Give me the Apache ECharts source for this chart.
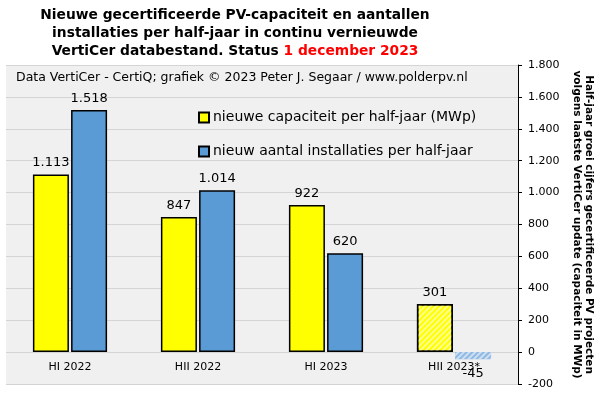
<!DOCTYPE html>
<html>
<head>
<meta charset="utf-8">
<script src="https://cdn.jsdelivr.net/npm/echarts@6/dist/echarts.min.js"></script>
<style>
  html, body { margin: 0; padding: 0; background: #fff; }
  #chart { width: 601px; height: 396px; }
</style>
</head>
<body>
<div id="chart"></div>
<script>
// half-year periods (last one still incomplete)
var periods = ['HI 2022', 'HII 2022', 'HI 2023', 'HII 2023*'];
var capaciteit = [1113, 847, 922, 301];   // MWp
var installaties = [1518, 1014, 620, -45];
var yTicks = { min: -200, max: 1800, step: 200 };

// thousands with a dot, like 1.518
function fmt(v) {
  var s = String(Math.abs(v)).replace(/\B(?=(\d{3})+(?!\d))/g, '.');
  return (v < 0 ? '-' : '') + s;
}

var hatch = {
  symbol: 'rect',
  symbolSize: 1,
  dashArrayX: [1, 0],
  dashArrayY: [2, 2],
  rotation: -Math.PI / 4,
  color: 'rgba(255,255,255,0.55)'
};

function buildData(values) {
  return values.map(function (v, i) {
    if (i < values.length - 1) return v;
    var item = { value: v, itemStyle: { decal: hatch } };
    if (v < 0) {
      item.itemStyle.color = '#8fb8e2';
      item.itemStyle.borderWidth = 0;
      item.label = { position: 'bottom', distance: 8 };
    }
    return item;
  });
}

var chart = echarts.init(document.getElementById('chart'));

var option = {
  backgroundColor: '#ffffff',
  animation: false,
  textStyle: { fontFamily: 'DejaVu Sans' },
  title: {
    text: 'Nieuwe gecertificeerde PV-capaciteit en aantallen\ninstallaties per half-jaar in continu vernieuwde\nVertiCer databestand. Status {r|1 december 2023}',
    left: 230,
    top: 1,
    textAlign: 'center',
    textStyle: {
      fontFamily: 'DejaVu Sans',
      fontSize: 13.8,
      fontWeight: 'bold',
      color: '#000',
      lineHeight: 18,
      rich: {
        r: { color: '#ff0000', fontSize: 13.8, fontWeight: 'bold', lineHeight: 18 }
      }
    }
  },
  graphic: [{
    type: 'text',
    left: 16,
    top: 71,
    z: 10,
    style: {
      text: 'Data VertiCer - CertiQ; grafiek \u00a9 2023 Peter J. Segaar / www.polderpv.nl',
      font: '12.5px "DejaVu Sans"',
      fill: '#000'
    }
  }],
  legend: {
    orient: 'vertical',
    left: 193,
    top: 104,
    icon: 'rect',
    itemWidth: 10,
    itemHeight: 10,
    itemGap: 17,
    textStyle: { fontSize: 14, color: '#000', lineHeight: 17, padding: [0, 0, 0, -1] },
    data: ['nieuwe capaciteit per half-jaar (MWp)', 'nieuw aantal installaties per half-jaar']
  },
  grid: {
    left: 6,
    right: 83,
    top: 65,
    bottom: 12,
    outerBoundsMode: 'none',
    containLabel: false,
    show: true,
    backgroundColor: '#f0f0f0',
    borderWidth: 0
  },
  xAxis: {
    type: 'category',
    data: periods,
    position: 'bottom',
    offset: -32,
    axisLine: { show: false, onZero: false },
    axisTick: { show: false },
    axisLabel: { fontSize: 11, color: '#000', margin: 10 }
  },
  yAxis: {
    type: 'value',
    position: 'right',
    min: yTicks.min,
    max: yTicks.max,
    interval: yTicks.step,
    axisLine: { show: true, lineStyle: { color: '#000', width: 1 } },
    axisTick: { show: true, length: 4, lineStyle: { color: '#000' } },
    axisLabel: { fontSize: 11, color: '#000', margin: 10, formatter: fmt },
    splitLine: { lineStyle: { color: '#d4d4d4', width: 1 } },
    name: 'Half-jaar groei cijfers gecertificeerde PV projecten\nvolgens laatste VertiCer update (capaciteit in MWp)',
    nameLocation: 'middle',
    nameRotate: -90,
    nameGap: 49,
    nameTextStyle: { fontSize: 10.5, fontWeight: 'bold', color: '#000', lineHeight: 12 }
  },
  series: [{
    name: 'nieuwe capaciteit per half-jaar (MWp)',
    type: 'bar',
    barWidth: 36,
    barGap: '6%',
    data: buildData(capaciteit),
    itemStyle: { color: '#ffff00', borderColor: '#000', borderWidth: 1.5 },
    label: { show: true, position: 'top', distance: 5, fontSize: 13, color: '#000', formatter: function (p) { return fmt(p.value); } }
  }, {
    name: 'nieuw aantal installaties per half-jaar',
    type: 'bar',
    barWidth: 36,
    data: buildData(installaties),
    itemStyle: { color: '#5b9bd5', borderColor: '#000', borderWidth: 1.5 },
    label: { show: true, position: 'top', distance: 5, fontSize: 13, color: '#000', formatter: function (p) { return fmt(p.value); } }
  }]
};

chart.setOption(option);
</script>
</body>
</html>
